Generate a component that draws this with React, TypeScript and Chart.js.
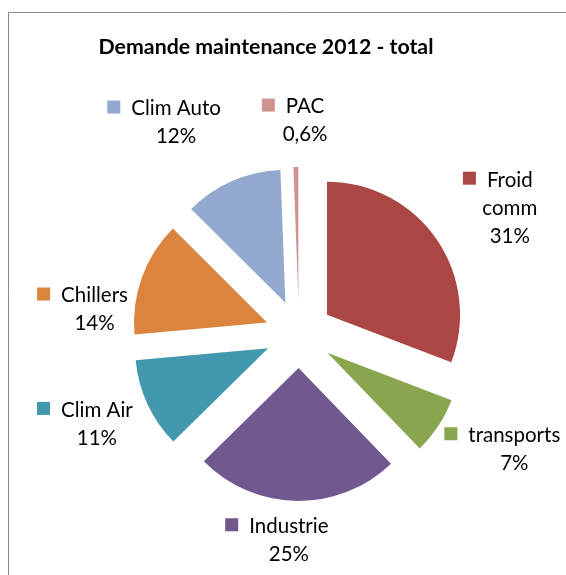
import React, { useEffect, useRef } from 'react';
import { Chart, registerables } from 'chart.js';

Chart.register(...registerables);

const chartTitle = 'Demande maintenance 2012 - total';
const categories = ['Froid comm', 'transports', 'Industrie', 'Clim Air', 'Chillers', 'Clim Auto', 'PAC'];
const shares = [31, 7, 25, 11, 14, 12, 0.6];
const percentLabels = ['31%', '7%', '25%', '11%', '14%', '12%', '0,6%'];
const sliceColors = ['#AA4643', '#89A54E', '#71588F', '#4198AF', '#DB843D', '#93A9CF', '#D19392'];

// layout / style settings
const EXPLODE = 34;
const RADIUS = 133;
const labelAngleShift = [3.5, -5.4, 2.1, 1.0, -12.9, -6.5, 2.7];
const labelDistance = [246, 244, 206, 221, 206, 245, 214];
const FONT_FAMILY = 'Lato, "Open Sans", sans-serif';
const LINE_H = 28;
const WRAP_W = 100;

function fitSize(ctx: CanvasRenderingContext2D, text: string, target: number, weight: string) {
  ctx.font = `${weight} 100px ${FONT_FAMILY}`;
  const w = ctx.measureText(text).width;
  return (100 * target) / w;
}

const explodePlugin = {
  id: 'explode',
  beforeDatasetsDraw(chart: any) {
    const meta = chart.getDatasetMeta(0);
    meta.data.forEach((el: any) => {
      el._ox = el.x;
      el._oy = el.y;
      const mid = (el.startAngle + el.endAngle) / 2;
      el.x = el._ox + Math.cos(mid) * EXPLODE;
      el.y = el._oy + Math.sin(mid) * EXPLODE;
    });
  },
  afterDatasetsDraw(chart: any) {
    const meta = chart.getDatasetMeta(0);
    meta.data.forEach((el: any) => {
      if (el._ox !== undefined) {
        el.x = el._ox;
        el.y = el._oy;
      }
    });
  },
};

const decorPlugin = {
  id: 'decor',
  beforeDraw(chart: any) {
    const ctx = chart.ctx as CanvasRenderingContext2D;
    ctx.save();
    ctx.fillStyle = '#ffffff';
    ctx.fillRect(0, 0, chart.width, chart.height);
    ctx.strokeStyle = '#8a8a8a';
    ctx.lineWidth = 1;
    ctx.beginPath();
    ctx.moveTo(8.5, chart.height);
    ctx.lineTo(8.5, 12.5);
    ctx.lineTo(chart.width, 12.5);
    ctx.stroke();
    ctx.restore();
  },
  afterDraw(chart: any) {
    const ctx = chart.ctx as CanvasRenderingContext2D;
    ctx.save();
    // title
    const ts = fitSize(ctx, chartTitle, 335, 'bold');
    ctx.font = `bold ${ts}px ${FONT_FAMILY}`;
    ctx.fillStyle = '#000000';
    ctx.textAlign = 'center';
    ctx.textBaseline = 'alphabetic';
    ctx.fillText(chartTitle, 266, 54);

    // data labels
    const ls = fitSize(ctx, 'transports', 92, 'normal');
    ctx.font = `normal ${ls}px ${FONT_FAMILY}`;
    const cap = ls * 0.72;
    const meta = chart.getDatasetMeta(0);
    meta.data.forEach((el: any, i: number) => {
      const mid = (el.startAngle + el.endAngle) / 2 + (labelAngleShift[i] * Math.PI) / 180;
      const cx = el.x + Math.cos(mid) * labelDistance[i];
      const cy = el.y + Math.sin(mid) * labelDistance[i];
      const name = categories[i];
      let lines: string[] = [name];
      if (ctx.measureText(name).width > WRAP_W && name.includes(' ')) {
        lines = name.split(' ');
      }
      lines.push(percentLabels[i]);
      const top = cy - ((lines.length - 1) * LINE_H) / 2;
      ctx.fillStyle = '#000000';
      ctx.textAlign = 'center';
      lines.forEach((ln, k) => {
        ctx.fillText(ln, cx, top + k * LINE_H + cap / 2);
      });
      const w0 = ctx.measureText(lines[0]).width;
      const sq = 13;
      const sx = cx - w0 / 2 - 11 - sq;
      const sy = top - sq / 2 - 1;
      ctx.fillStyle = sliceColors[i];
      ctx.fillRect(sx, sy, sq, sq);
    });
    ctx.restore();
  },
};

export default function App() {
  const ref = useRef<HTMLCanvasElement | null>(null);
  useEffect(() => {
    document.body.style.margin = '0';
    const canvas = ref.current!;
    const chart = new Chart(canvas, {
      type: 'pie',
      data: {
        labels: categories,
        datasets: [
          {
            data: shares,
            backgroundColor: sliceColors,
            borderWidth: 0,
          },
        ],
      },
      options: {
        responsive: false,
        animation: false,
        events: [],
        radius: RADIUS,
        layout: { padding: { left: 40, right: 8, top: 100, bottom: 7 } },
        plugins: {
          legend: { display: false },
          title: { display: false },
          tooltip: { enabled: false },
        },
      } as any,
      plugins: [explodePlugin, decorPlugin],
    });
    return () => chart.destroy();
  }, []);
  return <canvas ref={ref} width={566} height={575} style={{ display: 'block' }} />;
}
